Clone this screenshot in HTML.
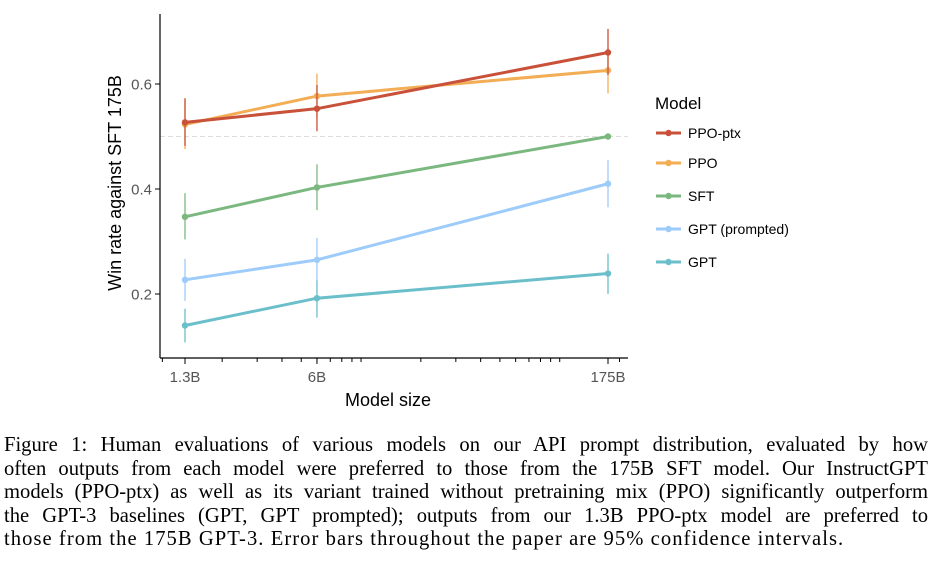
<!DOCTYPE html>
<html><head><meta charset="utf-8"><style>
body{margin:0;background:#fff;width:936px;height:569px;overflow:hidden;position:relative;font-family:"Liberation Sans",sans-serif}
.cap{position:absolute;left:4px;width:924px;font-family:"Liberation Serif",serif;font-size:20.6px;line-height:23.6px;top:434px;color:#000}
.cap div{text-align:justify;text-align-last:justify;white-space:nowrap}
.cap div:last-child{text-align-last:left;letter-spacing:1.05px}
</style></head><body>
<svg id="chart" width="936" height="420" style="position:absolute;left:0;top:0"></svg>
<div class="cap">
<div>Figure 1: Human evaluations of various models on our API prompt distribution, evaluated by how</div>
<div>often outputs from each model were preferred to those from the 175B SFT model. Our InstructGPT</div>
<div>models (PPO-ptx) as well as its variant trained without pretraining mix (PPO) significantly outperform</div>
<div>the GPT-3 baselines (GPT, GPT prompted); outputs from our 1.3B PPO-ptx model are preferred to</div>
<div>those from the 175B GPT-3. Error bars throughout the paper are 95% confidence intervals.</div>
</div>
<script>
const sizes=[1.3e9,6e9,175e9];
const sizeLabels=["1.3B","6B","175B"];
const seriesNames=["PPO-ptx","PPO","SFT","GPT (prompted)","GPT"];
const colors=["#c9513a","#f2ad55","#7bb87f","#9dcbfa","#6bbfcb"];
const vPPOptx=[0.527,0.553,0.66];
const lPPOptx=[0.482,0.51,0.617]; const hPPOptx=[0.573,0.598,0.705];
const vPPO=[0.523,0.577,0.626];
const lPPO=[0.476,0.535,0.582]; const hPPO=[0.57,0.62,0.67];
const vSFT=[0.347,0.403,0.5];
const lSFT=[0.304,0.36,0.5]; const hSFT=[0.392,0.447,0.5];
const vGPTp=[0.227,0.265,0.41];
const lGPTp=[0.187,0.225,0.365]; const hGPTp=[0.267,0.307,0.455];
const vGPT=[0.14,0.192,0.239];
const lGPT=[0.108,0.155,0.2]; const hGPT=[0.172,0.228,0.277];
const yTicks=[0.2,0.4,0.6];
const vals=[vPPOptx,vPPO,vSFT,vGPTp,vGPT],lows=[lPPOptx,lPPO,lSFT,lGPTp,lGPT],highs=[hPPOptx,hPPO,hSFT,hGPTp,hGPT];
const svg=document.getElementById('chart');const NS="http://www.w3.org/2000/svg";
const X0=185,X1=608,L0=Math.log10(sizes[0]),L1=Math.log10(sizes[2]);
const x=v=>X0+(Math.log10(v)-L0)/(L1-L0)*(X1-X0);
const y=v=>189-(v-0.4)/0.2*105;
function mk(t,a,p){const e=document.createElementNS(NS,t);for(const k in a)e.setAttribute(k,a[k]);(p||svg).appendChild(e);return e;}
let e;
e=mk('line',{x1:160,x2:628,y1:y(0.5),y2:y(0.5),stroke:'#ddd','stroke-dasharray':'5,3','stroke-width':1});


e=mk('line',{x1:160,x2:160,y1:14,y2:358,stroke:'#000','stroke-width':1.2});


e=mk('line',{x1:160,x2:628,y1:358,y2:358,stroke:'#000','stroke-width':1.2});


yTicks.forEach(t=>{
 e=mk('line',{x1:155,x2:160,y1:y(t),y2:y(t),stroke:'#000'});
 
 
 e=mk('text',{x:152,y:y(t)+5.5,'text-anchor':'end','font-size':15,fill:'#555'});e.textContent=t.toFixed(1);
 
 
});
for(let d=9;d<=11;d++)for(let m=1;m<10;m++){const v=m*Math.pow(10,d);const px=x(v);if(px<162||px>628)continue;
 e=mk('line',{x1:px,x2:px,y1:358,y2:362,stroke:'#000'});
 
 }
sizes.forEach((s,i)=>{
 e=mk('line',{x1:x(s),x2:x(s),y1:358,y2:364,stroke:'#000'});
 
 
 e=mk('text',{x:x(s),y:382,'text-anchor':'middle','font-size':15,fill:'#555'});e.textContent=sizeLabels[i];
 
 
});
e=mk('text',{x:388,y:406,'text-anchor':'middle','font-size':18,fill:'#000'});e.textContent='Model size';


e=mk('text',{x:0,y:0,transform:'translate(121,183) rotate(-90)','text-anchor':'middle','font-size':18,fill:'#000'});e.textContent='Win rate against SFT 175B';


for(let k=4;k>=0;k--){
 const g=mk('g',{});
 
 
 sizes.forEach((s,i)=>{e=mk('line',{x1:x(s),x2:x(s),y1:y(lows[k][i]),y2:y(highs[k][i]),stroke:colors[k],'stroke-width':1.3},g);
  
  });
 e=mk('polyline',{points:sizes.map((s,i)=>x(s)+','+y(vals[k][i])).join(' '),fill:'none',stroke:colors[k],'stroke-width':3},g);
 
 
 sizes.forEach((s,i)=>{e=mk('circle',{cx:x(s),cy:y(vals[k][i]),r:3.2,fill:colors[k]},g);
  
  });
}
const lg=mk('g',{});


e=mk('text',{x:655,y:109,'font-size':17,fill:'#000'},lg);e.textContent='Model';


const ly=[133,163,196,229,262];
seriesNames.forEach((n,k)=>{
 const g=mk('g',{},lg);
 
 
 mk('line',{x1:656,x2:681,y1:ly[k],y2:ly[k],stroke:colors[k],'stroke-width':3},g);
 mk('circle',{cx:668.5,cy:ly[k],r:3.2,fill:colors[k]},g);
 const t=mk('text',{x:688,y:ly[k]+5,'font-size':14,fill:'#000'},g);t.textContent=n;
});
</script>
</body></html>
